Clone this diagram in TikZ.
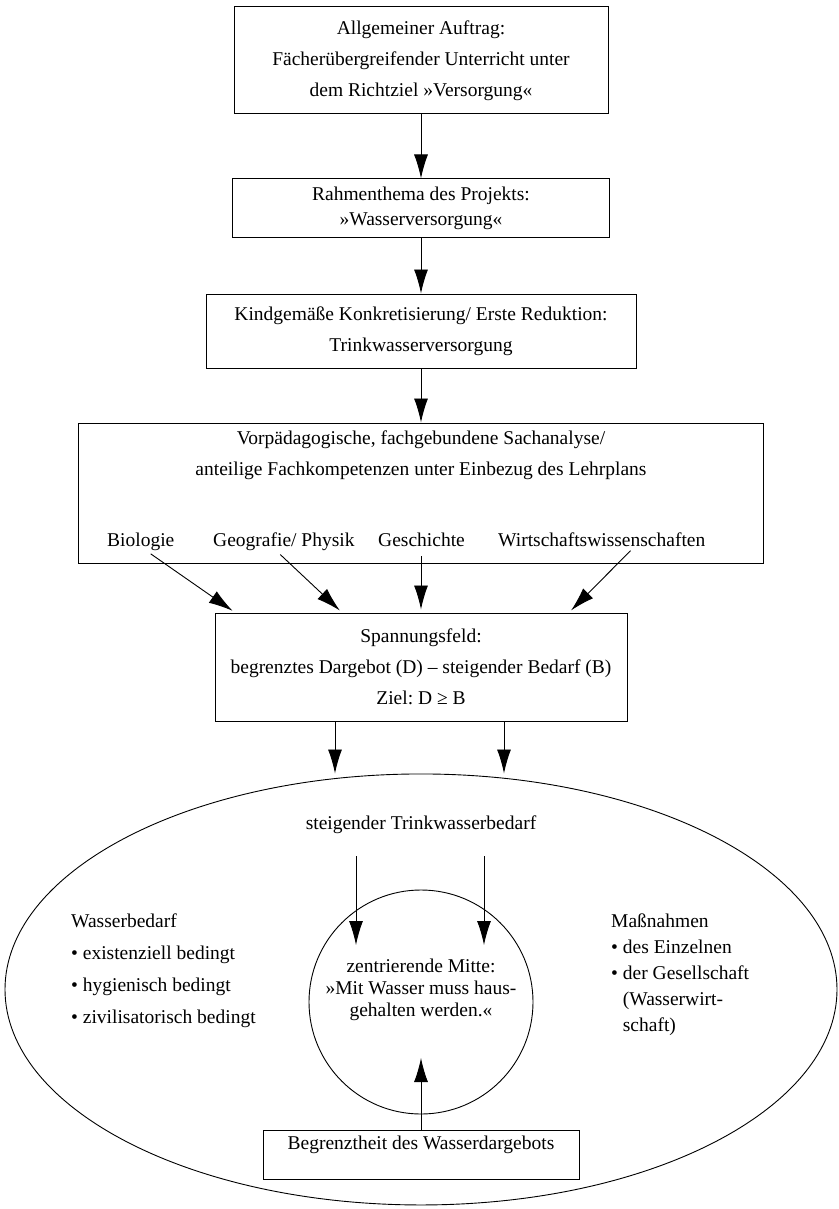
\documentclass[tikz,border=0pt]{standalone}
\usepackage{fontspec}
\setmainfont{Liberation Serif}
\usetikzlibrary{arrows.meta,calc,positioning,shapes.geometric}
\frenchspacing

\begin{document}
\begin{tikzpicture}[x=1pt,y=-1pt,>={Latex[length=24pt,width=14pt]},node distance=55pt,
		font=\fontsize{19.5pt}{31pt}\selectfont,align=center,
		kasten/.style={draw,line width=1pt,inner sep=0pt},
		pfeil/.style={->,line width=0.9pt},
		fach/.style={anchor=base west,inner sep=0pt}]
		\useasboundingbox (0,0) rectangle (838,1209);
		% Kette der Kaesten
		\node[kasten,minimum width=374pt,minimum height=107pt] (auftrag) at (421,60.5) {Allgemeiner Auftrag:\\Fächerübergreifender Unterricht unter\\dem Richtziel »Versorgung«};
		\node[kasten,minimum width=377pt,minimum height=58pt] [below=64pt of auftrag] (rahmen) {Rahmenthema des Projekts:\\[-6pt]»Wasserversorgung«};
		\node[kasten,minimum width=430pt,minimum height=74pt] [below=56pt of rahmen] (konkret) {Kindgemäße Konkretisierung/ Erste Reduktion:\\Trinkwasserversorgung};
		\node[kasten,minimum width=685pt,minimum height=140pt] [below=54pt of konkret] (sachanalyse) {};
		\node[anchor=north,inner sep=0pt] (sachtext) at ([yshift=-8pt]sachanalyse.north) {Vorpädagogische, fachgebundene Sachanalyse/\\anteilige Fachkompetenzen unter Einbezug des Lehrplans};
		\node[fach] (bio) at (107,546) {Biologie};
		\node[fach] (geo) at (213,546) {Geografie/ Physik};
		\node[fach] (gesch) at (378,546) {Geschichte};
		\node[fach] (wirt) at (498,546) {Wirtschaftswissenschaften};
		\node[kasten,minimum width=412pt,minimum height=108pt] [below=49pt of sachanalyse] (spannung) {Spannungsfeld:\\begrenztes Dargebot (D) -- steigender Bedarf (B)\\Ziel: D ≥ B};
		% Ellipse mit Mitte
		\node[ellipse,draw,line width=0.9pt,minimum width=832pt,minimum height=431pt,inner sep=0pt] [below=52pt of spannung] (feld) {};
		\node[circle,draw,line width=0.9pt,minimum size=224pt,inner sep=0pt] (mitte) at (421,1002) {};
		\node (steig) at (421,825) {steigender Trinkwasserbedarf};
		\node[font=\fontsize{19.5pt}{22pt}\selectfont] (mittetext) at (421,990) {zentrierende Mitte:\\»Mit Wasser muss haus-\\gehalten werden.«};
		\node[anchor=north west,align=left,inner sep=0pt,font=\fontsize{19.5pt}{32pt}\selectfont] (bedarf) at (71,914) {Wasserbedarf\\• existenziell bedingt\\• hygienisch bedingt\\• zivilisatorisch bedingt};
		\node[anchor=north west,align=left,inner sep=0pt,font=\fontsize{19.5pt}{26pt}\selectfont] (massnahmen) at (611,914) {Maßnahmen\\• des Einzelnen\\• der Gesellschaft\\\hphantom{•\ }(Wasserwirt-\\\hphantom{•\ }schaft)};
		\node[kasten,line width=0.9pt,minimum width=316pt,text height=19pt,text depth=30pt,anchor=north] (begrenzt) at (421,1130) {Begrenztheit des Wasserdargebots};
		\coordinate (z1) at (356,856);
		\coordinate (z2) at (484,856);
		\coordinate (z3) at (421,1058);
		% Pfeile
		\draw[pfeil] (auftrag) -- (rahmen);
		\draw[pfeil] (rahmen) -- (konkret);
		\draw[pfeil] (konkret) -- (sachanalyse);
		\draw[pfeil,shorten <=6pt,shorten >=3pt] ([xshift=5pt]bio.south) -- ([xshift=-186pt]spannung.north);
		\draw[pfeil,shorten <=6pt,shorten >=3pt] ([xshift=-8pt]geo.south) -- ([xshift=-79pt]spannung.north);
		\draw[pfeil,shorten <=10pt,shorten >=3pt] (gesch.south -| spannung.north) -- (spannung.north);
		\draw[pfeil,shorten <=6pt,shorten >=3pt] ([xshift=33pt]wirt.south) -- ([xshift=148pt]spannung.north);
		\draw[pfeil] ([xshift=-86pt]spannung.south) -- ([xshift=-86pt]spannung.south |- feld.north);
		\draw[pfeil] ([xshift=83pt]spannung.south) -- ([xshift=83pt]spannung.south |- feld.north);
		\draw[pfeil] (z1) -- ++(0,89);
		\draw[pfeil] (z2) -- ++(0,89);
		\draw[pfeil] (begrenzt.north) -- (z3);
\end{tikzpicture}
\end{document}
